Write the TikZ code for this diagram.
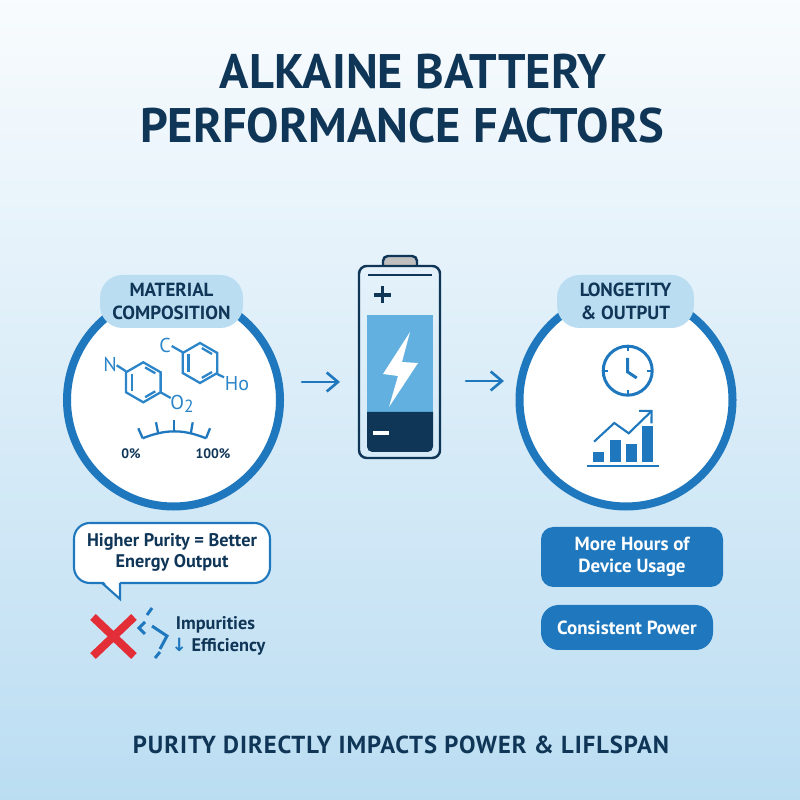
\documentclass[tikz,border=0pt]{standalone}
\usepackage{fontspec}
\setmainfont{PT Sans}
\newfontfamily\headfont[LetterSpace=4]{PT Sans}
\newfontfamily\symfont{DejaVu Sans}
\usetikzlibrary{arrows.meta}
\definecolor{ringblue}{HTML}{1F78BE}
\definecolor{navy}{HTML}{0F3557}
\definecolor{pillblue}{HTML}{BBDDF2}
\definecolor{cellblue}{HTML}{62B0E0}
\definecolor{molblue}{HTML}{2B85C8}
\definecolor{crossred}{HTML}{E32D37}
\tikzset{
	ring/.style={circle,draw=ringblue,line width=2.28pt,fill=white,minimum size=2.13cm,outer sep=0pt},
	pill/.style={fill=pillblue,rounded corners=6.4pt,minimum height=0.53cm,text=navy,align=center,font=\fontsize{5.4}{6}\selectfont\bfseries,inner sep=0pt},
	bluebox/.style={fill=ringblue,text=white,align=center,font=\fontsize{5.4}{6.2}\selectfont\bfseries,inner sep=0pt},
	bond/.style={draw=molblue,line width=0.65pt},
	gaugeline/.style={draw=ringblue,line width=0.65pt},
	atom/.style={text=molblue,font=\fontsize{5.7}{6}\selectfont,inner sep=0pt},
	darktext/.style={text=navy,font=\fontsize{5.2}{6}\selectfont\bfseries,inner sep=0pt,align=center},
	titletext/.style={text=navy,font=\fontsize{13.8}{16}\selectfont\bfseries,inner sep=0pt},
	flowarrow/.style={draw=ringblue,line width=0.75pt,line cap=round,-{Straight Barb[length=3.2pt,width=5.4pt]}},
	cellline/.style={draw=navy,line width=0.7pt},
	iconline/.style={draw=ringblue,line width=0.85pt}
}
\newcommand{\benzene}[2]{
	\draw[bond,shift={(#1,#2)}] (90:0.2) -- (30:0.2) -- (-30:0.2) -- (-90:0.2) -- (-150:0.2) -- (150:0.2) -- cycle;
	\draw[bond,shift={(#1,#2)}] (143:0.145) -- (-143:0.145);
	\draw[bond,shift={(#1,#2)}] (83:0.15) -- (37:0.15);
	\draw[bond,shift={(#1,#2)}] (-83:0.15) -- (-37:0.15);
}
\begin{document}
\begin{tikzpicture}
	\useasboundingbox (0,0) rectangle (8,8);
	\shade[top color=white!75!pillblue!40!white,bottom color=pillblue] (0,0) rectangle (8,8);

	\node[titletext] (titleone) at (4.13,7.28) {ALKAINE BATTERY};
	\node[titletext] (titletwo) at (4.02,6.74) {PERFORMANCE FACTORS};

	\node[ring] (matring) at (1.735,4) {};
	\node[pill,minimum width=1.43cm] (matpill) at (1.715,4.985) {MATERIAL\\[0.4pt]COMPOSITION};
	\benzene{1.433}{4.177}
	\benzene{2.0}{4.37}
	\draw[bond] (1.26,4.287) -- (1.167,4.347);
	\draw[bond] (1.606,4.077) -- (1.707,4.02);
	\draw[bond] (1.827,4.477) -- (1.717,4.54);
	\draw[bond] (2.157,4.267) -- (2.24,4.227);
	\node[atom] (nitrogen) at (1.1,4.36) {N};
	\node[atom] (carbon) at (1.65,4.55) {C};
	\node[atom] (hydroxy) at (2.37,4.16) {Ho};
	\node[atom] (oxygen) at (1.82,3.96) {O\raisebox{-1pt}{\fontsize{5}{5}\selectfont 2}};

	\draw[gaugeline] (1.427,3.617) to[bend left=22] (2.06,3.617);
	\draw[gaugeline] (1.427,3.617) -- (1.383,3.717);
	\draw[gaugeline] (1.583,3.66) -- (1.56,3.777);
	\draw[gaugeline] (1.74,3.677) -- (1.74,3.8);
	\draw[gaugeline] (1.907,3.66) -- (1.927,3.777);
	\draw[gaugeline] (2.06,3.617) -- (2.1,3.717);
	\node[darktext,font=\fontsize{3.9}{4}\selectfont\bfseries] (gaugelow) at (1.31,3.46) {0\%};
	\node[darktext,font=\fontsize{3.9}{4}\selectfont\bfseries] (gaugehigh) at (2.13,3.46) {100\%};

	\draw[draw=ringblue,line width=0.6pt,fill=white,rounded corners=4.5pt] (0.74,2.17) rectangle (2.7,2.77);
	\fill[white] (1.02,2.2) -- (1.2,2.2) -- (1.2,2.01) -- cycle;
	\draw[draw=ringblue,line width=0.6pt] (1.02,2.17) -- (1.2,2.01) -- (1.2,2.17);
	\node[darktext] (purity) at (1.72,2.475) {Higher Purity = Better\\[-0.2pt]Energy Output};

	\draw[crossred,line width=2.3pt] (0.93,1.83) -- (1.34,1.44);
	\draw[crossred,line width=2.3pt] (0.93,1.44) -- (1.34,1.83);
	\draw[iconline] (1.52,1.92) -- (1.47,1.85);
	\draw[iconline] (1.45,1.78) -- (1.39,1.72) -- (1.45,1.66);
	\draw[iconline] (1.52,1.74) -- (1.67,1.64) -- (1.6,1.51);
	\draw[iconline] (1.6,1.48) -- (1.55,1.42);
	\node[darktext] (impure) at (2.155,1.75) {Impurities};
	\node[darktext] (effic) at (2.185,1.53) {{\symfont\color{ringblue}↓} Efficiency};

	\draw[cellline,fill=gray!50,rounded corners=1.4pt] (3.83,5.34) -- (3.83,5.44) -- (4.17,5.44) -- (4.17,5.34);
	\node[draw=navy,line width=0.7pt,rounded corners=2.2pt,minimum width=0.81cm,minimum height=1.92cm,outer sep=0pt] (cell) at (3.995,4.38) {};
	\draw[cellline] (3.68,5.25) -- (4.32,5.25);
	\draw[cellline,line width=0.9pt] (3.74,5.05) -- (3.91,5.05);
	\draw[cellline,line width=0.9pt] (3.825,4.965) -- (3.825,5.135);
	\fill[cellblue] (3.67,3.88) rectangle (4.33,4.85);
	\fill[navy] (3.67,3.88) [rounded corners=1.5pt] -- (3.67,3.48) -- (4.33,3.48) [sharp corners] -- (4.33,3.88) -- cycle;
	\fill[white] (3.73,3.65) rectangle (3.89,3.69);
	\fill[white] (4.10,4.68) -- (3.83,4.26) -- (3.98,4.24) -- (3.89,3.93) -- (4.18,4.37) -- (4.02,4.38) -- cycle;

	\coordinate (arrowaa) at (3.02,4.18);
	\coordinate (arrowab) at (3.40,4.18);
	\coordinate (arrowba) at (4.66,4.19);
	\coordinate (arrowbb) at (5.04,4.19);
	\draw[flowarrow] (arrowaa) -- (arrowab);
	\draw[flowarrow] (arrowba) -- (arrowbb);

	\node[ring] (lifering) at (6.26,4) {};
	\node[pill,minimum width=1.37cm] (lifepill) at (6.255,4.985) {LONGETITY\\[0.4pt]\& OUTPUT};
	\draw[ringblue,line width=0.85pt,fill=white] (6.277,4.293) circle [radius=0.245];
	\draw[ringblue,line width=0.55pt] (6.277,4.538) -- (6.277,4.49);
	\draw[ringblue,line width=0.55pt] (6.277,4.048) -- (6.277,4.096);
	\draw[ringblue,line width=0.55pt] (6.032,4.293) -- (6.08,4.293);
	\draw[ringblue,line width=0.55pt] (6.522,4.293) -- (6.474,4.293);
	\draw[ringblue,line width=0.85pt] (6.277,4.42) -- (6.277,4.28) -- (6.367,4.22);
	\fill[ringblue] (5.933,3.377) rectangle (6.043,3.483);
	\fill[ringblue] (6.097,3.377) rectangle (6.21,3.6);
	\fill[ringblue] (6.257,3.377) rectangle (6.37,3.56);
	\fill[ringblue] (6.417,3.377) rectangle (6.53,3.737);
	\draw[ringblue,line width=0.6pt] (5.873,3.337) -- (6.587,3.337);
	\draw[ringblue,line width=0.6pt,-{Straight Barb[length=2.5pt,width=5pt]}] (5.94,3.583) -- (6.143,3.77) -- (6.287,3.667) -- (6.527,3.9);

	\node[bluebox,rounded corners=3.5pt,minimum width=1.82cm,minimum height=0.6cm] (hours) at (6.32,2.43) {More Hours of\\[0.1pt]Device Usage};
	\node[bluebox,rounded corners=5pt,minimum width=1.72cm,minimum height=0.45cm] (steady) at (6.27,1.725) {Consistent Power};

	\node[text=navy,font=\fontsize{7}{8}\selectfont\headfont\bfseries,inner sep=0pt] (footer) at (4.01,0.55) {PURITY DIRECTLY IMPACTS POWER \& LIFLSPAN};
\end{tikzpicture}
\end{document}
